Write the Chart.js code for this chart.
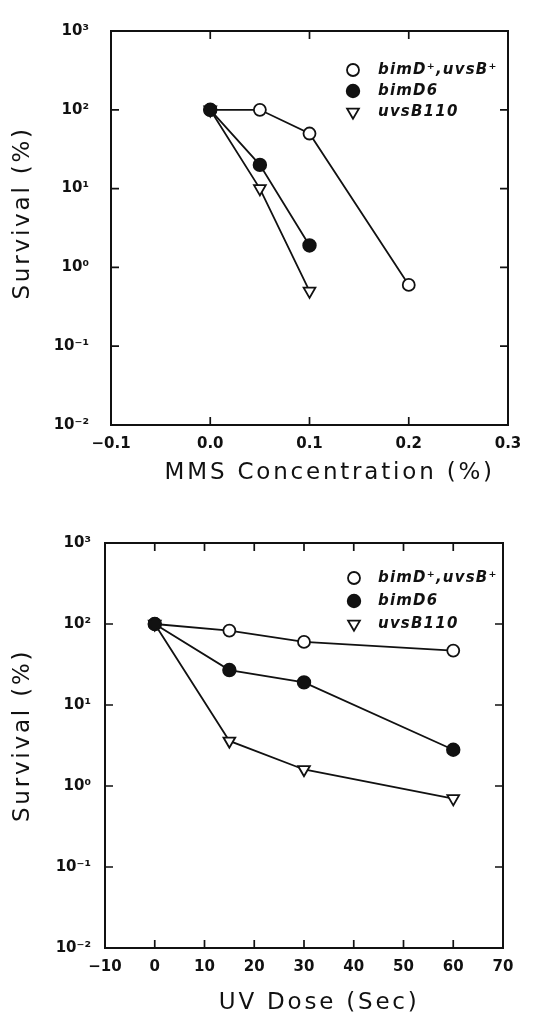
<!DOCTYPE html>
<html lang="en">
<head>
  <meta charset="UTF-8" />
  <title>Survival after MMS and UV treatment</title>
  <script src="https://cdn.jsdelivr.net/npm/chart.js"></script>
  <style>
    body {
      margin: 0;
      background-color: #fff;
    }
    .wrap {
      position: relative;
      width: 534px;
      height: 1021px;
    }
    canvas {
      position: absolute;
      left: 0;
    }
    #mmsChart { top: 0; }
    #uvChart { top: 510px; }
  </style>
</head>
<body>
  <div class="wrap">
    <canvas id="mmsChart" width="534" height="510"></canvas>
    <canvas id="uvChart" width="534" height="511"></canvas>
  </div>

  <script>
    // strains, in legend order
    const strainNames = ['bimD⁺,uvsB⁺', 'bimD6', 'uvsB110'];

    // upper panel: MMS concentration (%) vs survival (%)
    const mmsDose = [0, 0.05, 0.1, 0.2];
    const mmsWild = [100, 100, 50, 0.6];
    const mmsBimD6 = [100, 20, 1.9];
    const mmsUvsB = [100, 10, 0.5];
    const mmsXTicks = [-0.1, 0, 0.1, 0.2, 0.3];
    const mmsXLabels = ['−0.1', '0.0', '0.1', '0.2', '0.3'];

    // lower panel: UV dose (sec) vs survival (%)
    const uvDose = [0, 15, 30, 60];
    const uvWild = [100, 83, 60, 47];
    const uvBimD6 = [100, 27, 19, 2.8];
    const uvUvsB = [100, 3.6, 1.6, 0.7];
    const uvXTicks = [-10, 0, 10, 20, 30, 40, 50, 60, 70];
    const uvXLabels = ['−10', '0', '10', '20', '30', '40', '50', '60', '70'];

    // shared log axis
    const yTicks = [0.01, 0.1, 1, 10, 100, 1000];
    const yLabels = ['10⁻²', '10⁻¹', '10⁰', '10¹', '10²', '10³'];

    const ink = '#111';

    // marker look per strain: open circle, filled circle, open down-triangle
    const markerStyles = [
      { pointStyle: 'circle', pointBackgroundColor: '#fff', pointRadius: 6, pointRotation: 0, order: 1 },
      { pointStyle: 'circle', pointBackgroundColor: ink, pointRadius: 6.3, pointRotation: 0, order: 0 },
      { pointStyle: 'triangle', pointBackgroundColor: '#fff', pointRadius: 6.8, pointRotation: 180, order: 2 }
    ];

    function makeDatasets(xs, seriesList) {
      return seriesList.map((ys, i) => Object.assign({
        label: strainNames[i],
        data: ys.map((y, j) => ({ x: xs[j], y: y })),
        borderColor: ink,
        borderWidth: 1.8,
        pointBorderColor: ink,
        pointBorderWidth: 1.8,
        tension: 0,
        fill: false
      }, markerStyles[i]));
    }

    // frame with inward ticks, in-plot legend, wide axis titles
    const framePlugin = {
      id: 'frame',
      beforeDraw(chart) {
        chart.ctx.letterSpacing = '2.8px';
      },
      beforeDatasetsDraw(chart) {
        const ctx = chart.ctx;
        ctx.letterSpacing = '0px';
        const { left, right, top, bottom } = chart.chartArea;
        const xs = chart.scales.x;
        const ys = chart.scales.y;
        ctx.save();
        ctx.strokeStyle = ink;
        ctx.lineWidth = 2;
        ctx.strokeRect(left, top, right - left, bottom - top);
        ctx.lineWidth = 1.7;
        ctx.beginPath();
        xs.ticks.forEach(t => {
          const px = xs.getPixelForValue(t.value);
          if (px <= left + 1 || px >= right - 1) return;
          ctx.moveTo(px, bottom); ctx.lineTo(px, bottom - 8);
          ctx.moveTo(px, top); ctx.lineTo(px, top + 8);
        });
        ys.ticks.forEach(t => {
          const py = ys.getPixelForValue(t.value);
          if (py <= top + 1 || py >= bottom - 1) return;
          ctx.moveTo(left, py); ctx.lineTo(left + 8, py);
          ctx.moveTo(right, py); ctx.lineTo(right - 8, py);
        });
        ctx.stroke();
        ctx.restore();
      },
      afterDraw(chart, args, opts) {
        const ctx = chart.ctx;
        const { right, top } = chart.chartArea;
        ctx.save();
        ctx.letterSpacing = '1.2px';
        ctx.font = 'italic bold 15px "DejaVu Sans"';
        ctx.textBaseline = 'middle';
        ctx.textAlign = 'left';
        chart.data.datasets.forEach((ds, i) => {
          const y = top + opts.dy + i * opts.gap;
          const mx = right - opts.markerDx;
          ctx.fillStyle = ds.pointBackgroundColor;
          ctx.strokeStyle = ds.pointBorderColor;
          ctx.lineWidth = ds.pointBorderWidth;
          Chart.helpers.drawPoint(ctx, {
            pointStyle: ds.pointStyle,
            radius: ds.pointRadius,
            rotation: ds.pointRotation,
            borderWidth: ds.pointBorderWidth
          }, mx, y);
          ctx.fillStyle = ink;
          ctx.fillText(ds.label, right - opts.textDx, y);
        });
        ctx.restore();
      }
    };

    function buildChart(canvasId, cfg) {
      const tickFont = { family: 'DejaVu Sans', weight: 'bold', size: 15 };
      const titleFont = { family: 'DejaVu Sans', size: 23 };
      return new Chart(document.getElementById(canvasId), {
        type: 'line',
        data: { datasets: cfg.datasets },
        options: {
          responsive: false,
          devicePixelRatio: 1,
          animation: false,
          events: [],
          layout: { padding: cfg.padding },
          plugins: {
            legend: { display: false },
            tooltip: { enabled: false },
            frame: cfg.legend
          },
          scales: {
            x: {
              type: 'linear',
              min: cfg.xTicks[0],
              max: cfg.xTicks[cfg.xTicks.length - 1],
              afterBuildTicks: s => { s.ticks = cfg.xTicks.map(v => ({ value: v })); },
              afterFit: s => { s.height = cfg.xAxisHeight; },
              grid: { display: false, drawTicks: false },
              border: { display: false },
              ticks: {
                z: 1,
                padding: 10,
                color: ink,
                font: tickFont,
                maxRotation: 0,
                autoSkip: false,
                callback: (v, i) => cfg.xLabels[i]
              },
              title: {
                display: true,
                text: cfg.xTitle,
                color: ink,
                font: titleFont,
                padding: { top: 0, bottom: cfg.xTitlePad }
              }
            },
            y: {
              type: 'logarithmic',
              min: yTicks[0],
              max: yTicks[yTicks.length - 1],
              afterBuildTicks: s => { s.ticks = yTicks.map(v => ({ value: v })); },
              afterFit: s => { s.width = cfg.yAxisWidth; },
              grid: { display: false, drawTicks: false },
              border: { display: false },
              ticks: {
                z: 1,
                padding: cfg.yLabelPad,
                color: ink,
                font: tickFont,
                autoSkip: false,
                callback: (v, i) => yLabels[i]
              },
              title: {
                display: true,
                text: cfg.yTitle,
                color: ink,
                font: titleFont,
                padding: { top: 9, bottom: 0 }
              }
            }
          }
        },
        plugins: [framePlugin]
      });
    }

    buildChart('mmsChart', {
      datasets: makeDatasets(mmsDose, [mmsWild, mmsBimD6, mmsUvsB]),
      xTicks: mmsXTicks,
      xLabels: mmsXLabels,
      xTitle: '    MMS Concentration (%)',
      yTitle: '   Survival (%)',
      padding: { top: 22, right: 26, bottom: 0, left: 0 },
      xAxisHeight: 85,
      yAxisWidth: 111,
      xTitlePad: 23,
      yLabelPad: 22,
      legend: { markerDx: 155, textDx: 130, dy: 39, gap: 21 }
    });

    buildChart('uvChart', {
      datasets: makeDatasets(uvDose, [uvWild, uvBimD6, uvUvsB]),
      xTicks: uvXTicks,
      xLabels: uvXLabels,
      xTitle: '   UV Dose (Sec)',
      yTitle: '  Survival (%)',
      padding: { top: 33, right: 31, bottom: 0, left: 0 },
      xAxisHeight: 73,
      yAxisWidth: 105,
      xTitlePad: 4,
      yLabelPad: 14,
      legend: { markerDx: 149, textDx: 125, dy: 35, gap: 23 }
    });
  </script>
</body>
</html>
